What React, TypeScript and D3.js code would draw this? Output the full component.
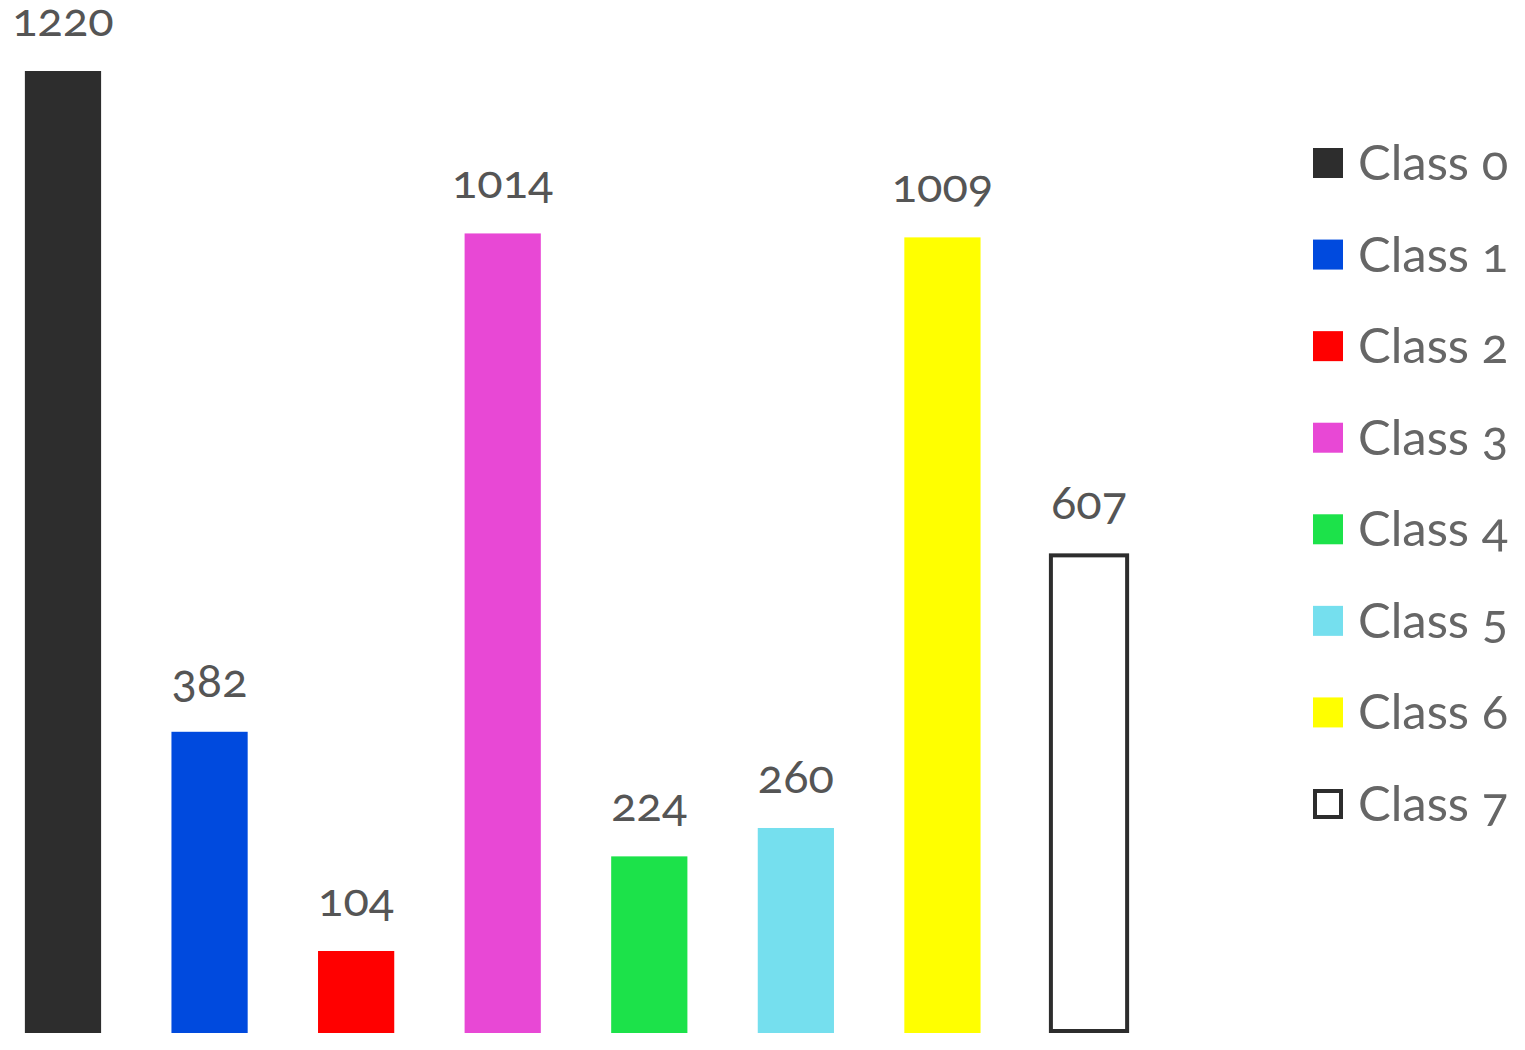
import React from 'react';
import * as d3 from 'd3';

// chart data
const classes = ['Class 0', 'Class 1', 'Class 2', 'Class 3', 'Class 4', 'Class 5', 'Class 6', 'Class 7'];
const counts = [1220, 382, 104, 1014, 224, 260, 1009, 607];
const colors = ['#2d2d2d', '#004ade', '#ff0000', '#e848d5', '#1ce24a', '#75dfee', '#ffff00', '#ffffff'];

const W = 1525;
const H = 1050;
const FONT = 'Lato, "Open Sans", sans-serif';

const App = () => {
  const x = d3.scaleBand<string>()
    .domain(classes)
    .range([-10.3, 1162.3])
    .paddingInner(0.48)
    .paddingOuter(0.24);

  const y = d3.scaleLinear()
    .domain([0, d3.max(counts) as number])
    .range([1033, 71]);

  // legend rows
  const legendY = d3.scalePoint<string>()
    .domain(classes)
    .range([163, 804]);

  return (
    <svg
      width={W}
      height={H}
      style={{ position: 'absolute', left: 0, top: 0, background: '#fff' }}
    >
      <g>
        {classes.map((c, i) => {
          const outlined = i === classes.length - 1;
          const bx = x(c) as number;
          const bw = x.bandwidth();
          const top = y(counts[i]);
          return (
            <g key={c}>
              <rect
                x={bx}
                y={outlined ? top + 1 : top}
                width={bw}
                height={outlined ? y(0) - top - 3 : y(0) - top}
                fill={colors[i]}
                stroke={outlined ? '#2d2d2d' : 'none'}
                strokeWidth={outlined ? 4 : 0}
              />
              <text
                x={bx + bw / 2}
                y={top - 35}
                textAnchor="middle"
                fill="#555"
                fontFamily={FONT}
                fontSize={47}
                style={{ fontVariantNumeric: 'oldstyle-nums' }}
              >
                {counts[i]}
              </text>
            </g>
          );
        })}
      </g>
      <g>
        {classes.map((c, i) => {
          const cy = legendY(c) as number;
          const outlined = i === classes.length - 1;
          return (
            <g key={c}>
              <rect
                x={outlined ? 1315 : 1313}
                y={outlined ? cy - 13 : cy - 15}
                width={outlined ? 26 : 30}
                height={outlined ? 26 : 30}
                fill={colors[i]}
                stroke={outlined ? '#2d2d2d' : 'none'}
                strokeWidth={outlined ? 4 : 0}
              />
              <text
                x={1358}
                y={cy + 17}
                fill="#666"
                fontFamily={FONT}
                fontSize={49}
                style={{ fontVariantNumeric: 'oldstyle-nums' }}
              >
                {c}
              </text>
            </g>
          );
        })}
      </g>
    </svg>
  );
};

export default App;
